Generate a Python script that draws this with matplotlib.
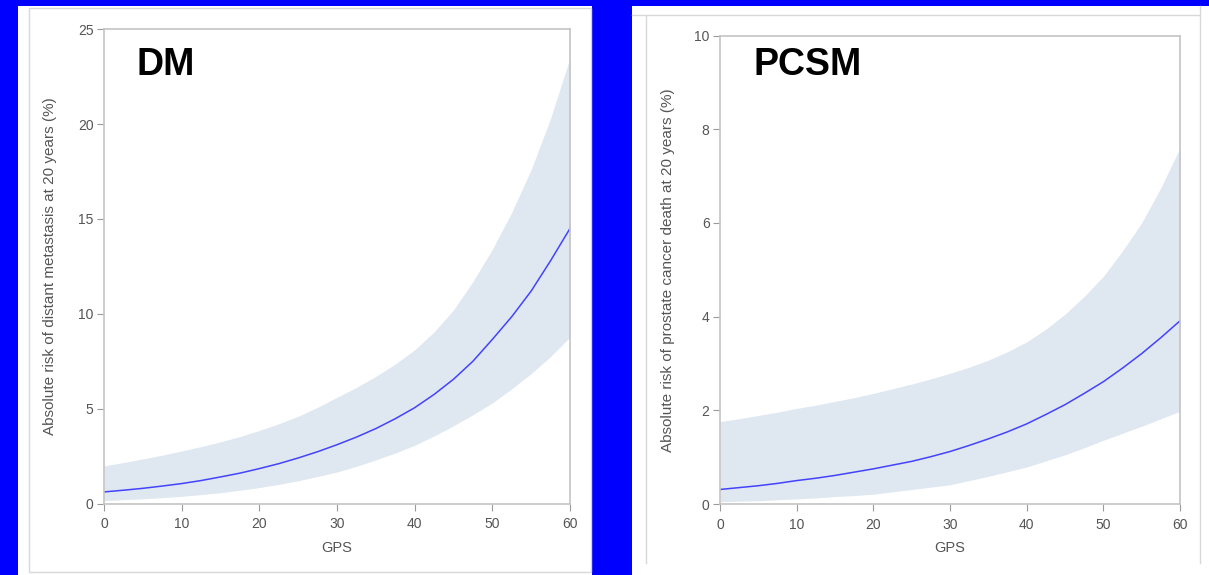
import matplotlib
matplotlib.use('Agg')
import matplotlib.pyplot as plt
from matplotlib.patches import Rectangle
from matplotlib.lines import Line2D

gps = [0, 2.5, 5, 7.5, 10, 12.5, 15, 17.5, 20, 22.5, 25, 27.5, 30,
       32.5, 35, 37.5, 40, 42.5, 45, 47.5, 50, 52.5, 55, 57.5, 60]

# Distant metastasis, absolute risk at 20 years (%)
dm_risk = [0.61, 0.70, 0.80, 0.92, 1.05, 1.21, 1.40, 1.60, 1.84, 2.10, 2.40, 2.73, 3.10,
           3.50, 3.95, 4.47, 5.05, 5.75, 6.55, 7.50, 8.65, 9.85, 11.2, 12.8, 14.5]
dm_upper = [1.98, 2.16, 2.35, 2.55, 2.77, 3.00, 3.25, 3.53, 3.85, 4.20, 4.60, 5.07, 5.60,
            6.12, 6.70, 7.35, 8.10, 9.05, 10.2, 11.7, 13.4, 15.35, 17.6, 20.3, 23.5]
dm_lower = [0.15, 0.20, 0.25, 0.31, 0.38, 0.47, 0.57, 0.70, 0.84, 1.01, 1.20, 1.42, 1.66,
            1.96, 2.30, 2.66, 3.07, 3.56, 4.10, 4.68, 5.30, 6.05, 6.85, 7.75, 8.77]

# Prostate cancer specific mortality, absolute risk at 20 years (%)
pcsm_risk = [0.31, 0.35, 0.39, 0.44, 0.50, 0.55, 0.61, 0.68, 0.75, 0.83, 0.91, 1.01, 1.12,
             1.25, 1.39, 1.54, 1.71, 1.91, 2.12, 2.36, 2.61, 2.90, 3.21, 3.55, 3.91]
pcsm_upper = [1.76, 1.82, 1.89, 1.96, 2.04, 2.11, 2.19, 2.27, 2.36, 2.46, 2.56, 2.67, 2.79,
              2.92, 3.07, 3.25, 3.46, 3.73, 4.05, 4.43, 4.86, 5.40, 6.00, 6.75, 7.60]
pcsm_lower = [0.05, 0.06, 0.07, 0.09, 0.11, 0.13, 0.16, 0.18, 0.21, 0.26, 0.31, 0.36, 0.41,
              0.50, 0.59, 0.69, 0.79, 0.92, 1.05, 1.20, 1.36, 1.51, 1.66, 1.82, 1.98]

x_ticks = [0, 10, 20, 30, 40, 50, 60]
dm_y_ticks = [0, 5, 10, 15, 20, 25]
pcsm_y_ticks = [0, 2, 4, 6, 8, 10]

W, H = 1209, 575
BAND = '#dfe7f1'
LINE = '#4343ff'
plt.rcParams['font.family'] = ['Liberation Sans', 'DejaVu Sans']


def px_rect(fig, x0, y0, x1, y1, **kw):
    '''
    Adds a rectangle given in pixel coords (origin top left), behind the axes.
    '''
    fig.add_artist(Rectangle((x0 / W, 1 - y1 / H), (x1 - x0) / W, (y1 - y0) / H,
                             transform=fig.transFigure, zorder=-2, **kw))


def px_line(fig, x0, y0, x1, y1, color='#d8d8d8'):
    fig.add_artist(Line2D([x0 / W, x1 / W], [1 - y0 / H, 1 - y1 / H],
                          transform=fig.transFigure, color=color, lw=1.0, zorder=-1))


def draw_panel(ax, risk, upper, lower, y_ticks, ylabel, title, title_pos, ylabel_x):
    '''
    Draws one risk curve with its confidence band.
    '''
    ax.fill_between(gps, lower, upper, color=BAND, lw=0)
    ax.plot(gps, risk, color=LINE, lw=1.1)

    ax.set_xlim(0, 60)
    ax.set_ylim(y_ticks[0], y_ticks[-1])
    ax.set_xticks(x_ticks)
    ax.set_yticks(y_ticks)

    for s in ax.spines.values():
        s.set_color('#c4c4c4')
        s.set_linewidth(1.2)
    ax.tick_params(colors='#9a9a9a', labelcolor='#555555', labelsize=10,
                   length=5, width=0.8)
    ax.tick_params(axis='x', pad=5)
    ax.tick_params(axis='y', pad=2.5)

    ax.set_xlabel('GPS', fontsize=10.5, color='#555555')
    ax.set_ylabel(ylabel, fontsize=11, color='#555555')
    # ylabel anchor is its right edge once rotated
    ax.xaxis.set_label_coords(0.5, -0.08)
    ax.yaxis.set_label_coords(ylabel_x, 0.5)

    ax.text(title_pos[0], title_pos[1], title, transform=ax.transAxes,
            fontsize=27, fontweight='bold', va='baseline', ha='left')


fig = plt.figure(figsize=(W / 100, H / 100), dpi=100)
fig.patch.set_facecolor('#0000ff')

# white slide panels and their thin grey borders
px_rect(fig, 18, 6, 592, 575, facecolor='white', edgecolor='none')
px_rect(fig, 632, 6, 1209, 575, facecolor='white', edgecolor='none')
px_rect(fig, 29, 8, 591, 572, facecolor='none', edgecolor='#d8d8d8', lw=1.0)
px_line(fig, 632, 15, 1200, 15)
px_line(fig, 646, 15, 646, 563)
px_line(fig, 1200, 6, 1200, 563)

ax1 = fig.add_axes([104 / W, 1 - 503.5 / H, 466 / W, 474.2 / H])
ax2 = fig.add_axes([720 / W, 1 - 504 / H, 460 / W, 468.5 / H])

draw_panel(ax1, dm_risk, dm_upper, dm_lower, dm_y_ticks,
           'Absolute risk of distant metastasis at 20 years (%)',
           'DM', (0.069, 0.903), -0.101)
draw_panel(ax2, pcsm_risk, pcsm_upper, pcsm_lower, pcsm_y_ticks,
           'Absolute risk of prostate cancer death at 20 years (%)',
           'PCSM', (0.072, 0.916), -0.098)

fig.savefig('out.png', dpi=100, facecolor=fig.get_facecolor())
